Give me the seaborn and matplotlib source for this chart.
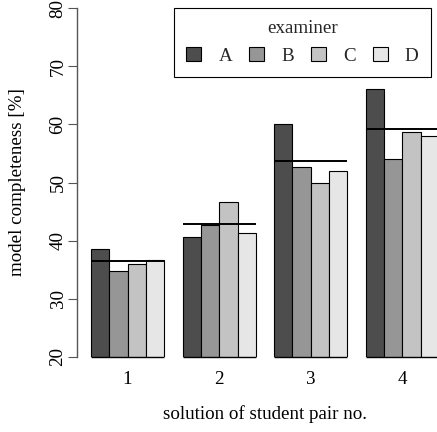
import numpy as np
import pandas as pd
import seaborn as sns
import matplotlib.pyplot as plt

# values (model completeness in %)
pairs = ['1', '2', '3', '4']
examiners = ['A', 'B', 'C', 'D']
score_a = [38.6, 40.7, 60.0, 66.0]
score_b = [34.7, 42.7, 52.6, 54.0]
score_c = [36.0, 46.6, 50.0, 58.6]
score_d = [36.6, 41.3, 52.0, 58.0]
y_ticks = [20, 30, 40, 50, 60, 70, 80]
grays = ['#4d4d4d', '#969696', '#c3c3c3', '#e6e6e6']

sns.set_theme(style='white')
plt.rcParams['font.family'] = ['Liberation Serif', 'DejaVu Serif']
fs = 13.7

df = pd.DataFrame({
    'pair': pairs * len(examiners),
    'examiner': np.repeat(examiners, len(pairs)),
    'completeness': score_a + score_b + score_c + score_d,
})

fig = plt.figure(figsize=(4.37, 4.32), dpi=100)
# plot region runs past the right edge, like the cropped original
ax = fig.add_axes([77 / 437, 75 / 432, 376 / 437, 349 / 432])

sns.barplot(data=df, x='pair', y='completeness', hue='examiner', palette=grays,
            width=0.8, saturation=1, edgecolor='black', linewidth=0.8, ax=ax)

ax.set_xlim(-0.552, 3.552)
ax.set_ylim(20, 80)

# mean of the four examiners per pair, and the bar bottoms at the clip line
means = df.groupby('pair', sort=False)['completeness'].mean()
for i, m in enumerate(means):
    ax.hlines(m, i - 0.4, i + 0.4, color='black', lw=1.4, zorder=5)
    ax.hlines(20, i - 0.4, i + 0.4, color='black', lw=1.0, zorder=5, clip_on=False)

for side in ['top', 'right', 'bottom']:
    ax.spines[side].set_visible(False)
ax.spines['left'].set_color('#555555')
ax.spines['left'].set_linewidth(1.0)

ax.set_yticks(y_ticks)
ax.set_yticklabels([str(t) for t in y_ticks], rotation=90, va='center')
ax.tick_params(axis='y', left=True, length=6.5, width=0.8, color='#555555',
               pad=1, labelsize=fs, labelcolor='black')
ax.tick_params(axis='x', bottom=False, length=0, pad=10, labelsize=fs, labelcolor='black')

ax.set_xlabel('solution of student pair no.', fontsize=fs, color='black')
ax.set_ylabel('model completeness [%]', fontsize=fs, color='black')
ax.xaxis.label.set_va('center')
ax.yaxis.label.set_va('center')
ax.xaxis.set_label_coords(0.5, -0.163)
ax.yaxis.set_label_coords(-0.157, 0.5)

handles, labels = ax.get_legend_handles_labels()
leg = ax.legend(handles, labels, title='examiner', ncol=4, loc='upper right',
                bbox_to_anchor=(431 / 437, 424 / 432), bbox_transform=fig.transFigure,
                frameon=True, fancybox=False, edgecolor='black', framealpha=1,
                fontsize=fs, title_fontsize=fs, handlelength=0.8, handleheight=0.8,
                handletextpad=0.9, columnspacing=0.88, borderpad=0.65, borderaxespad=0)
leg.get_frame().set_linewidth(0.8)
for h in leg.legend_handles:
    h.set_edgecolor('black')
    h.set_linewidth(0.8)

fig.savefig('out.png', dpi=100)
